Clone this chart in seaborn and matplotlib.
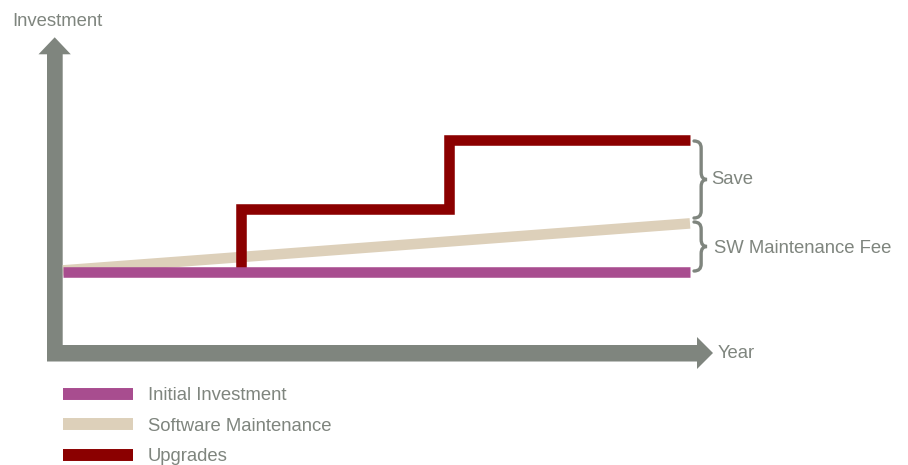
import matplotlib
matplotlib.use("Agg")
import matplotlib.pyplot as plt
from matplotlib.patches import Polygon, PathPatch
from matplotlib.path import Path
import seaborn as sns

# ---------------- data ----------------
years = [0, 10]
initial_investment = [1.0, 1.0]
maintenance_years = [0, 10]
software_maintenance = [1.02, 1.60]
upgrade_years = [2.84, 6.16, 10]
upgrades = [1.0, 1.78, 2.63]
series_labels = ["Initial Investment", "Software Maintenance", "Upgrades"]
axis_labels = ["Investment", "Year"]
brace_labels = ["Save", "SW Maintenance Fee"]

# ---------------- style ----------------
PURPLE = "#a84d8f"
BEIGE = "#ddd0ba"
RED = "#8b0000"
GRAY = "#7f857e"
FS = 13.3
LW = 7.6

W, H = 908, 465
sns.set_theme(style="white")
plt.rcParams["font.family"] = ["Liberation Sans", "DejaVu Sans"]

fig = plt.figure(figsize=(W / 100, H / 100), dpi=100)

# main data axes (whole figure, scaled so data frame sits in place)
X_PX0, X_PX1 = 63, 690
Y_PX0, Y_PPU = 353, 81
ppx = (X_PX1 - X_PX0) / 10.0
ax = fig.add_axes([0, 0, 1, 1])
ax.set_xlim(-X_PX0 / ppx, (W - X_PX0) / ppx)
ax.set_ylim(-(H - Y_PX0) / Y_PPU, Y_PX0 / Y_PPU)
ax.axis("off")

# decoration overlay in pixel coordinates
deco = fig.add_axes([0, 0, 1, 1], zorder=0)
deco.set_xlim(0, W)
deco.set_ylim(H, 0)
deco.axis("off")
deco.patch.set_alpha(0)
ax.set_zorder(1)
ax.patch.set_alpha(0)

common = dict(estimator=None, sort=False, ax=ax, legend=False)
sns.lineplot(x=maintenance_years, y=software_maintenance, color=BEIGE,
             linewidth=LW, solid_capstyle="butt", zorder=1, **common)
sns.lineplot(x=upgrade_years, y=upgrades, color=RED, linewidth=LW,
             drawstyle="steps-pre", solid_capstyle="butt",
             solid_joinstyle="miter", zorder=2, **common)
sns.lineplot(x=years, y=initial_investment, color=PURPLE, linewidth=LW,
             solid_capstyle="butt", zorder=3, **common)

l_beige, l_red, l_purple = ax.lines[0], ax.lines[1], ax.lines[2]

# axes arrows
v_arrow = [(47, 361), (47, 54.3), (38.5, 54.3), (54.7, 37.3), (70.8, 54.3),
           (62.7, 54.3), (62.7, 361)]
h_arrow = [(47, 345), (697, 345), (697, 337), (713, 353), (697, 369),
           (697, 361.5), (47, 361.5)]
for poly in (v_arrow, h_arrow):
    deco.add_patch(Polygon(poly, closed=True, facecolor=GRAY, edgecolor="none"))


def brace(x, y0, y1, w, r=7):
    ym = (y0 + y1) / 2
    xm = x + w * 0.55
    verts = [(x, y0), (xm, y0), (xm, y0 + r),
             (xm, ym - r), (xm, ym), (x + w, ym),
             (xm, ym), (xm, ym + r),
             (xm, y1 - r), (xm, y1), (x, y1)]
    codes = [Path.MOVETO, Path.CURVE3, Path.CURVE3,
             Path.LINETO, Path.CURVE3, Path.CURVE3,
             Path.CURVE3, Path.CURVE3,
             Path.LINETO, Path.CURVE3, Path.CURVE3]
    return PathPatch(Path(verts, codes), facecolor="none", edgecolor=GRAY,
                     linewidth=2.4, capstyle="round")


deco.add_patch(brace(694, 141, 218, 13))
deco.add_patch(brace(694, 222, 271, 13))

# texts
deco.text(12, 26, axis_labels[0], fontsize=FS, color=GRAY, va="baseline", ha="left")
deco.text(718, 358.3, axis_labels[1], fontsize=FS, color=GRAY, va="baseline", ha="left")
deco.text(711, 184, brace_labels[0], fontsize=FS, color=GRAY, va="baseline", ha="left")
deco.text(714, 252.7, brace_labels[1], fontsize=FS, color=GRAY, va="baseline", ha="left")

# legend
leg = ax.legend(handles=[l_purple, l_beige, l_red], labels=series_labels,
                loc="upper left", bbox_to_anchor=(63, 387),
                bbox_transform=deco.transData, frameon=False, fontsize=FS,
                handlelength=70 / 18.5, handletextpad=15 / 18.5,
                labelspacing=0.74, borderpad=0, borderaxespad=0,
                labelcolor=GRAY)
for h in leg.get_lines():
    h.set_linewidth(8.6)

fig.savefig("out.png", dpi=100)
